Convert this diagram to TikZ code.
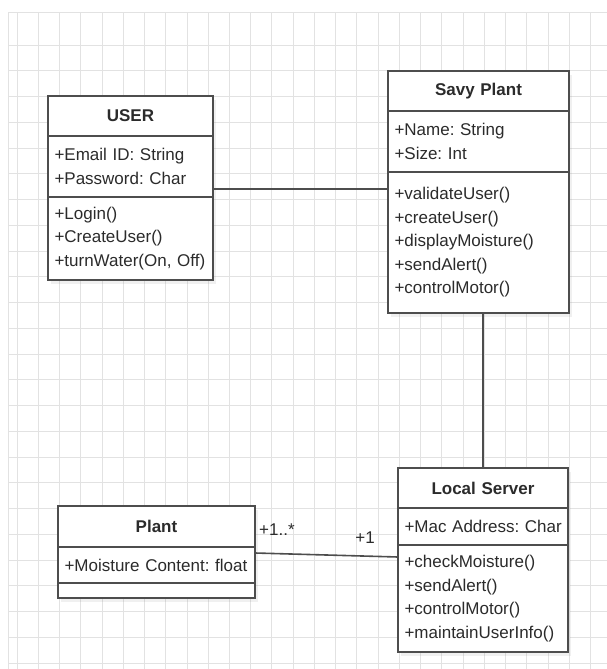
\documentclass[tikz,border=0pt]{standalone}
\usepackage{fontspec}
\setmainfont{Liberation Sans}
\usetikzlibrary{positioning, calc, shadows}

\definecolor{boxline}{HTML}{4D4D4D}
\definecolor{gridline}{HTML}{E2E2E2}
\definecolor{txt}{HTML}{2B2B2B}
\newcommand{\umlfont}{\fontsize{17}{23.5}\selectfont\frenchspacing}

\begin{document}
\begin{tikzpicture}[
  x=1pt, y=-1pt,
  part/.style={draw=boxline, line width=1.7pt, fill=white, text=txt, inner xsep=6.5pt, inner ysep=0pt, outer sep=0pt,
    align=left, font=\umlfont, drop shadow={opacity=0.12, shadow xshift=3pt, shadow yshift=-4pt}},
  head/.style={part, align=center, font=\umlfont\bfseries},
  link/.style={draw=boxline, line width=1.6pt},
  mult/.style={text=txt, font=\umlfont, inner sep=0pt}
]
\useasboundingbox (0,0) rectangle (607,669);

% background grid
\foreach \k in {0,...,27}
  \draw[gridline, line width=0.8pt] ({17+21.24*\k},12) -- ({17+21.24*\k},669);
\foreach \k in {0,...,24}
  \draw[gridline, line width=0.8pt] (8,{45+25.75*\k}) -- (607,{45+25.75*\k});
\draw[gridline, line width=0.8pt] (8,669) -- (8,12) -- (607,12);

% USER
\node[head, text width=152pt, minimum height=40pt, anchor=north] (user) at (130.5,96) {USER};
\node[part, text width=152pt, minimum height=61pt, below=0pt of user] (userattr) {+Email ID: String\\+Password: Char};
\node[part, text width=152pt, minimum height=83pt, below=0pt of userattr] (usermeth) {+Login()\\+CreateUser()\\+turnWater(On, Off)};

% Savy Plant
\node[head, text width=168pt, minimum height=40pt, anchor=north] (savy) at (478.5,71) {Savy Plant};
\node[part, text width=168pt, minimum height=61pt, below=0pt of savy] (savyattr) {+Name: String\\+Size: Int};
\node[part, text width=168pt, minimum height=141pt, below=0pt of savyattr] (savymeth)
  {+validateUser()\\+createUser()\\+displayMoisture()\\+sendAlert()\\+controlMotor()};

% Local Server
\node[head, text width=157pt, minimum height=40pt, anchor=north] (local) at (483,468) {Local Server};
\node[part, text width=163pt, inner xsep=3.5pt, minimum height=37pt, below=0pt of local] (localattr) {\hspace{3pt}+Mac Address: Char};
\node[part, text width=157pt, minimum height=107pt, below=0pt of localattr] (localmeth)
  {+checkMoisture()\\+sendAlert()\\+controlMotor()\\+maintainUserInfo()};

% Plant
\node[head, text width=184pt, minimum height=41pt, anchor=north] (plant) at (156.5,506) {Plant};
\node[part, text width=184pt, minimum height=36pt, below=0pt of plant] (plantattr) {+Moisture Content: float};
\node[part, text width=184pt, minimum height=15pt, below=0pt of plantattr] (plantmeth) {};

% associations
\coordinate (ua) at ($(userattr.south east)+(0,-8)$);
\draw[link] (ua) -- (ua -| savymeth.west);
\draw[link] (savymeth.south -| local.north) -- (local.north);
\coordinate (pa) at ($(plantattr.north east)+(0,6)$);
\coordinate (lm) at ($(localmeth.north west)+(0,12)$);
\draw[link] (pa) -- (lm);

% multiplicities
\node[mult, anchor=west] (many) at ($(plantattr.north east)+(4,-17)$) {+1..*};
\node[mult, anchor=east] (one) at ($(localmeth.north west)+(-23,-7)$) {+1};
\end{tikzpicture}
\end{document}
